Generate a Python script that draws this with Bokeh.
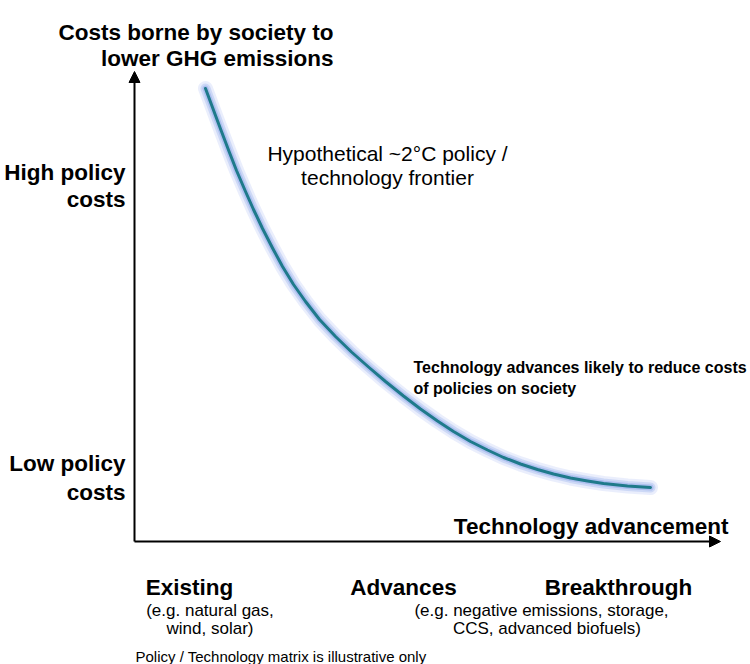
from bokeh.plotting import figure
from bokeh.models import Range1d, Arrow, NormalHead, ColumnDataSource
from bokeh.core.properties import value
from bokeh.embed import file_html
from bokeh.resources import INLINE

# ---- data (x: technology advancement, y: cost to society; units = px from origin) ----
frontier_x = [71, 76, 81, 87, 94, 102, 111, 119, 128, 138, 148, 159, 171, 185, 201, 217, 234,
              251, 269, 286, 303, 319, 336, 353, 369, 386, 403, 419, 436, 453, 469, 493, 516]
frontier_y = [453, 439.5, 426, 410, 391.5, 371, 350, 332, 313, 293.5, 275, 257, 240, 222, 205, 189.5, 174.5,
              160, 145.5, 132.5, 120.5, 110, 100, 91.5, 84, 77.5, 72, 67.5, 63.5, 60.5, 58, 55.5, 54]

title_lines = ["Costs borne by society to", "lower GHG emissions"]
high_lines = ["High policy", "costs"]
low_lines = ["Low policy", "costs"]
frontier_lines = ["Hypothetical ~2\u00b0C policy /", "technology frontier"]
note_lines = ["Technology advances likely to reduce costs", "of policies on society"]
x_title = "Technology advancement"
categories = ["Existing", "Advances", "Breakthrough"]
cat_examples_1 = ["(e.g. natural gas,", "wind, solar)"]
cat_examples_2 = ["(e.g. negative emissions, storage,", "CCS, advanced biofuels)"]
footnote = "Policy / Technology matrix is illustrative only"

SANS = "Liberation Sans"
BOLD_SIZE = "22.5px"

p = figure(width=750, height=664, output_backend="svg", toolbar_location=None,
           x_range=Range1d(-134, 616), y_range=Range1d(-123, 541), min_border=0)
p.xaxis.visible = False
p.yaxis.visible = False
p.xgrid.visible = False
p.ygrid.visible = False
p.outline_line_color = None
p.background_fill_color = "white"
p.border_fill_color = "white"

# axes as arrows
ax_top = 470
ax_right = 586
p.add_layout(Arrow(x_start=0, y_start=0, x_end=0, y_end=ax_top, line_width=2, line_color="black",
                   end=NormalHead(size=11, fill_color="black", line_color="black", line_width=1)))
p.add_layout(Arrow(x_start=0, y_start=0, x_end=ax_right, y_end=0, line_width=2, line_color="black",
                   end=NormalHead(size=11, fill_color="black", line_color="black", line_width=1)))

# frontier curve with soft glow
src = ColumnDataSource(dict(x=frontier_x, y=frontier_y))
p.line("x", "y", source=src, line_width=15, line_color="#c3cff5", line_alpha=0.35, line_cap="round", line_join="round")
p.line("x", "y", source=src, line_width=10, line_color="#a9bcf0", line_alpha=0.45, line_cap="round", line_join="round")
p.line("x", "y", source=src, line_width=6, line_color="#8fa7ea", line_alpha=0.5, line_cap="round", line_join="round")
p.line("x", "y", source=src, line_width=3, line_color="#1f7a8b", line_cap="round", line_join="round")


def txt(xs, ys, texts, size, style="normal", align="left"):
    p.text(x=xs, y=ys, text=texts, text_font=value(SANS), text_font_size=size,
           text_font_style=style, text_align=align, text_baseline="alphabetic", text_color="black")


txt([199, 199], [509, 483], title_lines, BOLD_SIZE, "bold", "right")
txt([-9, -9], [369, 342], high_lines, BOLD_SIZE, "bold", "right")
txt([-9, -9], [78, 49], low_lines, BOLD_SIZE, "bold", "right")
txt([253, 253], [388, 364], frontier_lines, "21px", "normal", "center")
txt([279, 279], [174, 153], note_lines, "16px", "bold", "left")
txt([594], [15], [x_title], BOLD_SIZE, "bold", "right")
txt([55, 269, 484], [-46, -46, -46], categories, BOLD_SIZE, "bold", "center")
txt([75.5, 75.5], [-69, -87], cat_examples_1, "17px", "normal", "center")
txt([407, 412.5], [-69, -87], cat_examples_2, "17px", "normal", "center")
txt([1], [-115], [footnote], "15px", "normal", "left")

open("out.html", "w").write(file_html(p, INLINE))
